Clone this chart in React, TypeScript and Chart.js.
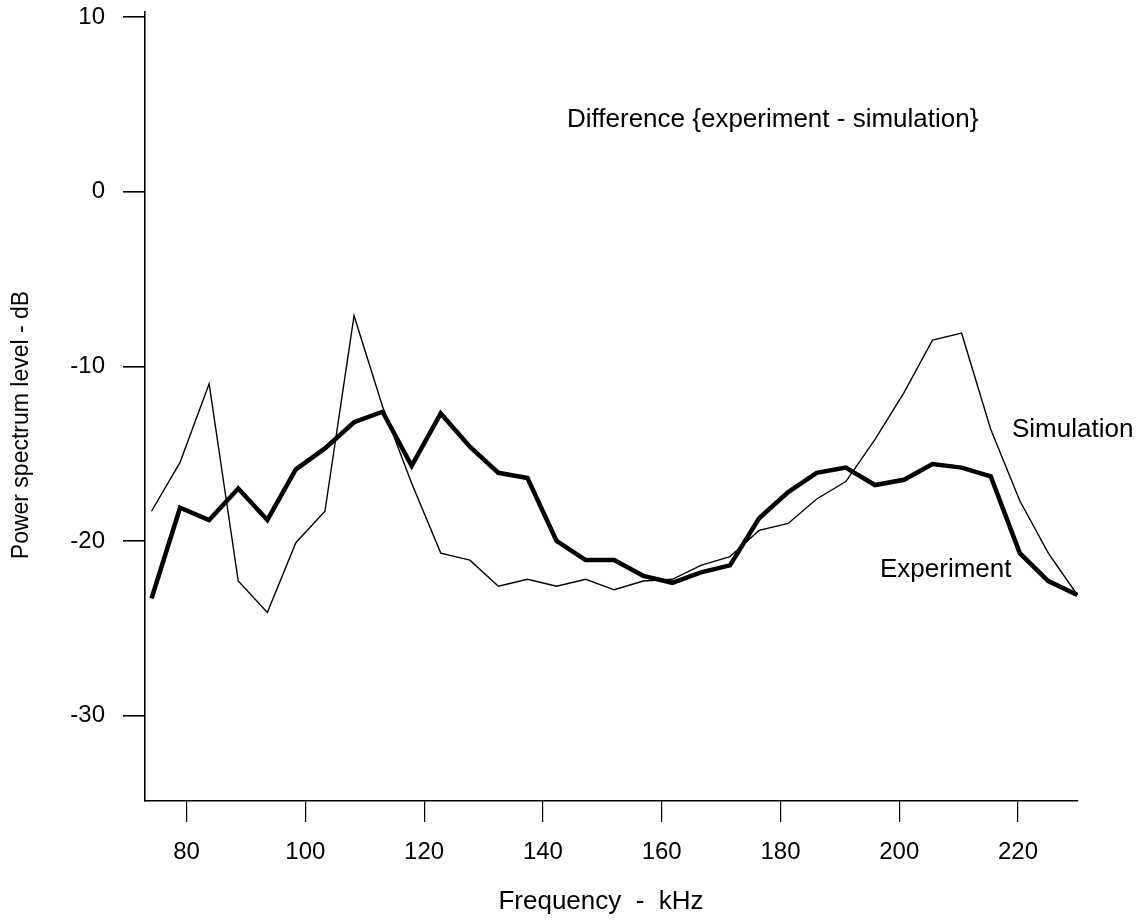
import React, { useEffect, useRef } from "react";
import { Chart, registerables } from "chart.js";

Chart.register(...registerables);

// Frequency (kHz) of each spectral line
const frequencies = [
  74.1, 78.9, 83.8, 88.7, 93.6, 98.4, 103.3, 108.2, 113.0, 117.9, 122.8,
  127.7, 132.5, 137.4, 142.3, 147.2, 152.0, 156.9, 161.8, 166.6, 171.5,
  176.4, 181.3, 186.1, 191.0, 195.9, 200.8, 205.6, 210.5, 215.4, 220.3,
  225.1, 230.0,
];

// Power spectrum level (dB)
const experiment = [
  -23.3, -18.1, -18.8, -17.0, -18.8, -15.9, -14.7, -13.2, -12.6, -15.7, -12.7,
  -14.6, -16.1, -16.4, -20.0, -21.1, -21.1, -22.0, -22.4, -21.8, -21.4,
  -18.7, -17.2, -16.1, -15.8, -16.8, -16.5, -15.6, -15.8, -16.3, -20.7,
  -22.3, -23.1,
];

const simulation = [
  -18.3, -15.5, -11.0, -22.3, -24.1, -20.1, -18.3, -7.1, -12.3, -16.7, -20.7,
  -21.1, -22.6, -22.2, -22.6, -22.2, -22.8, -22.3, -22.2, -21.4, -20.9,
  -19.4, -19.0, -17.6, -16.6, -14.2, -11.5, -8.5, -8.1, -13.6, -17.7,
  -20.7, -23.1,
];

const xTicks = [80, 100, 120, 140, 160, 180, 200, 220];
const yTicks = [10, 0, -10, -20, -30];

const FONT = "'Liberation Sans', Arial, Helvetica, sans-serif";

const textPlugin = {
  id: "texts",
  afterDraw(chart: any) {
    const ctx = chart.ctx;
    ctx.save();
    ctx.fillStyle = "#000";
    ctx.textBaseline = "alphabetic";
    ctx.textAlign = "left";
    ctx.font = `26px ${FONT}`;
    ctx.fillText("Difference {experiment - simulation}", 567, 127);
    ctx.fillText("Simulation", 1012, 437);
    ctx.fillText("Experiment", 880, 577);
    ctx.textAlign = "center";
    ctx.fillText("Frequency  -  kHz", 601, 909);
    ctx.translate(22, 425);
    ctx.rotate(-Math.PI / 2);
    ctx.textBaseline = "middle";
    ctx.font = `23px ${FONT}`;
    ctx.fillText("Power spectrum level - dB", 0, 0);
    ctx.restore();
  },
};

export default function App() {
  const ref = useRef<HTMLCanvasElement>(null);

  useEffect(() => {
    if (!ref.current) return;
    const chart = new Chart(ref.current, {
      type: "line",
      data: {
        datasets: [
          {
            label: "Experiment",
            data: frequencies.map((f, i) => ({ x: f, y: experiment[i] })),
            borderColor: "#000",
            borderWidth: 4.5,
            pointRadius: 0,
            tension: 0,
            fill: false,
          },
          {
            label: "Simulation",
            data: frequencies.map((f, i) => ({ x: f, y: simulation[i] })),
            borderColor: "#000",
            borderWidth: 1.4,
            pointRadius: 0,
            tension: 0,
            fill: false,
          },
        ],
      },
      options: {
        animation: false,
        responsive: false,
        devicePixelRatio: 1,
        layout: { padding: { left: 0, right: 63, top: 12, bottom: 0 } },
        plugins: {
          legend: { display: false },
          tooltip: { enabled: false },
          title: { display: false },
        },
        scales: {
          x: {
            type: "linear",
            min: 73.0,
            max: 230.1,
            afterBuildTicks: (s: any) => {
              s.ticks = xTicks.map((v) => ({ value: v }));
            },
            afterFit: (s: any) => {
              s.height = 119;
              s.paddingLeft = 0;
              s.paddingRight = 0;
            },
            grid: {
              drawOnChartArea: false,
              drawTicks: true,
              tickLength: 21,
              color: "#000",
              lineWidth: 1.2,
            },
            border: { display: true, color: "#000", width: 1.6 },
            ticks: {
              color: "#000",
              font: { family: FONT, size: 24 },
              padding: 16,
              maxRotation: 0,
              autoSkip: false,
            },
          },
          y: {
            type: "linear",
            min: -34.9,
            max: 10.3,
            afterBuildTicks: (s: any) => {
              s.ticks = yTicks.map((v) => ({ value: v }));
            },
            afterFit: (s: any) => {
              s.width = 145;
              s.paddingTop = 0;
              s.paddingBottom = 0;
            },
            grid: {
              drawOnChartArea: false,
              drawTicks: true,
              tickLength: 22,
              color: "#000",
              lineWidth: 1.6,
            },
            border: { display: true, color: "#000", width: 1.6 },
            ticks: {
              color: "#000",
              font: { family: FONT, size: 24 },
              padding: 18,
              autoSkip: false,
            },
          },
        },
      },
      plugins: [textPlugin],
    });
    return () => chart.destroy();
  }, []);

  return (
    <div style={{ position: "absolute", left: 0, top: 0, width: 1141, height: 920, background: "#fff" }}>
      <canvas ref={ref} width={1141} height={920} style={{ display: "block" }} />
    </div>
  );
}
